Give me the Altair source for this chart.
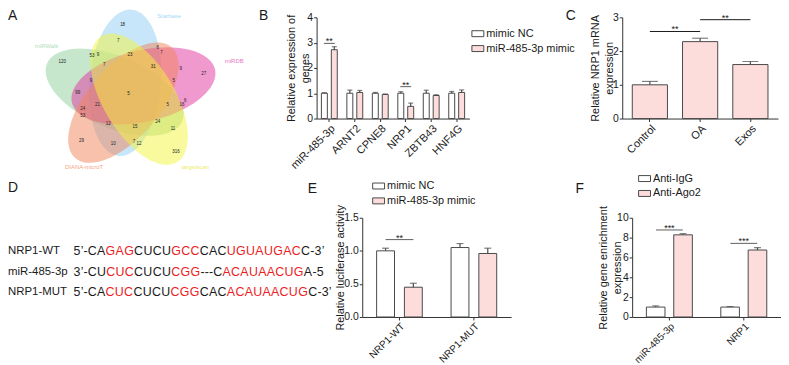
import math
import altair as alt
import pandas as pd

FONT = "Liberation Sans"
INK = "#1a1a1a"
EDGE = "#4a4a4a"
PINK = "#fddcdc"
RED = "#ec1c24"
RECT = "M-1,-0.5L1,-0.5L1,0.5L-1,0.5Z"

# ---------------- Panel A : five-set Venn ----------------
venn_names = ["miRWalk", "Starbase", "miRDB", "DIANA-microT", "targetscan"]
venn_fill = ["#8fcf9b", "#8fcdf3", "#e2339f", "#ef8459", "#f4f43c"]
venn_label_color = ["#b3dcbb", "#a6d7f4", "#e57ac4", "#f3a688", "#ecec66"]
venn_cx = [115.5, 126.1, 144.5, 124.3, 140.2]
venn_cy = [89.0, 79.5, 82.6, 99.5, 96.0]
venn_dir = [203, 275, 347, 131, 59]
venn_label_x = [46.7, 170.5, 236.0, 84.7, 196.7]
venn_label_y = [42.0, 11.7, 57.7, 164.0, 164.0]
venn_counts = ["18", "7", "6", "7", "23", "53", "9", "120", "7", "31", "9", "27",
               "9", "5", "99", "5", "21", "5", "6", "16", "24", "53", "12", "15",
               "24", "11", "29", "10", "7", "12", "316"]
venn_count_x = [123.5, 119, 159, 162.7, 131, 92.7, 98.7, 62.7, 105, 154.3, 182, 205.3,
                91.7, 175, 78.3, 129.3, 98.3, 169, 186.7, 183.3, 83.3, 83.3, 109, 136,
                159, 174.3, 82, 114, 135, 140, 177.3]
venn_count_y = [21.5, 37.3, 44.3, 49.3, 51.3, 52.7, 51.7, 58.7, 61.3, 63.3, 65.7, 70.3,
                77.3, 77.3, 89.5, 91, 101.7, 101.7, 98.3, 102.3, 105.7, 113, 121, 124,
                118.7, 125.7, 138.3, 140.7, 139, 140.7, 149.3]

# ---------------- Panel B ----------------
b_genes = ["miR-485-3p", "ARNT2", "CPNE8", "NRP1", "ZBTB43", "HNF4G"]
b_series = ["mimic NC", "miR-485-3p mimic"]
b_nc = [1.0, 1.0, 1.0, 1.0, 1.0, 1.0]
b_nc_err = [0.02, 0.12, 0.03, 0.06, 0.12, 0.07]
b_mimic = [2.72, 1.03, 0.95, 0.48, 0.91, 1.03]
b_mimic_err = [0.12, 0.08, 0.02, 0.13, 0.03, 0.10]
b_sig_cat = ["miR-485-3p", "NRP1"]
b_sig_y = [2.97, 1.26]
b_sig_txt = ["**", "**"]

# ---------------- Panel C ----------------
c_groups = ["Control", "OA", "Exos"]
c_vals = [1.0, 2.28, 1.6]
c_errs = [0.1, 0.1, 0.09]
c_sig_a = ["Control", "OA"]
c_sig_b = ["OA", "Exos"]
c_sig_y = [2.58, 2.93]
c_sig_txt = ["**", "**"]

# ---------------- Panel D ----------------
d_labels = ["NRP1-WT", "miR-485-3p", "NRP1-MUT"]
d_row_y = [251, 272, 292.3]
d_wt_parts = ["5’-CA", "GAG", "CUCU", "GCC", "CAC", "UGUAUGAC", "C-3’"]
d_mir_parts = ["3’-CU", "CUC", "CUCU", "CGG", "---C", "ACAUAACUG", "A-5"]
d_mut_parts = ["5’-CA", "CUC", "CUCU", "CGG", "CAC", "ACAUAACUG", "C-3’"]
d_part_colors = ["k", "r", "k", "r", "k", "r", "k"]

# ---------------- Panel E ----------------
e_groups = ["NRP1-WT", "NRP1-MUT"]
e_series = ["mimic NC", "miR-485-3p mimic"]
e_nc = [1.0, 1.05]
e_nc_err = [0.04, 0.06]
e_mimic = [0.45, 0.96]
e_mimic_err = [0.06, 0.08]
e_sig_cat = ["NRP1-WT"]
e_sig_y = [1.17]
e_sig_txt = ["**"]

# ---------------- Panel F ----------------
f_groups = ["miR-485-3p", "NRP1"]
f_series = ["Anti-IgG", "Anti-Ago2"]
f_igg = [1.0, 1.0]
f_igg_err = [0.12, 0.05]
f_ago = [8.28, 6.75]
f_ago_err = [0.12, 0.25]
f_sig_cat = ["miR-485-3p", "NRP1"]
f_sig_y = [8.77, 7.42]
f_sig_txt = ["***", "***"]

INDEP = dict(fill="independent", color="independent", xOffset="independent")


def letter(t, x, y):
    return alt.Chart(pd.DataFrame({"t": [t]})).mark_text(
        align="left", baseline="top", fontSize=14, font=FONT, color=INK
    ).encode(x=alt.value(x), y=alt.value(y), text="t:N")


# ---------- build panel A ----------
A_W, A_H, VSHIFT = 157, 150, 2.5
ax = dict(scale=alt.Scale(domain=[8, 8 + A_W], nice=False, zero=False), axis=None)
ay = dict(scale=alt.Scale(domain=[16 - VSHIFT, 16 - VSHIFT + A_H], nice=False, zero=False, reverse=True), axis=None)

ratio = 36 / 74


def ellipse_path(deg):
    th = math.radians(deg)
    c, s = math.cos(th), math.sin(th)
    pts = []
    for i in range(90):
        t = 2 * math.pi * i / 90
        px, py = math.cos(t), ratio * math.sin(t)
        pts.append(f"{px * c - py * s:.4f},{px * s + py * c:.4f}")
    return "M" + "L".join(pts) + "Z"


ell_paths = [ellipse_path(d) for d in venn_dir]
ell_df = pd.DataFrame({"name": venn_names, "x": venn_cx, "y": venn_cy,
                       "idx": list(range(len(venn_names)))})
ell = alt.Chart(ell_df).mark_point(filled=True, size=148 * 148, opacity=0.5, strokeWidth=0).encode(
    x=alt.X("x:Q", **ax), y=alt.Y("y:Q", **ay),
    shape=alt.Shape("name:N", scale=alt.Scale(domain=venn_names, range=ell_paths), legend=None),
    fill=alt.Fill("name:N", scale=alt.Scale(domain=venn_names, range=venn_fill), legend=None),
    order=alt.Order("idx:Q"),
)
lab_df = pd.DataFrame({"name": venn_names, "x": venn_label_x, "y": venn_label_y})
labs = alt.Chart(lab_df).mark_text(fontSize=6, font=FONT, baseline="middle").encode(
    x=alt.X("x:Q", **ax), y=alt.Y("y:Q", **ay), text="name:N",
    color=alt.Color("name:N", scale=alt.Scale(domain=venn_names, range=venn_label_color), legend=None),
)
cnt_df = pd.DataFrame({"t": venn_counts, "x": venn_count_x, "y": venn_count_y})
cnts = alt.Chart(cnt_df).mark_text(fontSize=4.5, font=FONT, color="#222222", baseline="middle").encode(
    x=alt.X("x:Q", **ax), y=alt.Y("y:Q", **ay), text="t:N"
)
panelA = alt.layer(ell, labs, cnts, letter("A", 0, -8)).resolve_scale(
    fill="independent", color="independent").properties(width=A_W, height=A_H)


# ---------- generic bar panel ----------
def bar_panel(cats, series, vals, errs, fills, W, H, ydom, yvals, yfmt, ytitle,
              band_pi, band_po, off_pi, off_po, cap, title_pad,
              within=None, across=None, letter_xy=(0, 0), letter_t="", legend_xy=None, xlab_fs=11):
    rows = []
    for s, vv, ee in zip(series, vals, errs):
        for c, v, e in zip(cats, vv, ee):
            rows.append({"cat": c, "s": s, "v": v, "top": v + e})
    df = pd.DataFrame(rows)
    xscale = alt.Scale(domain=cats, paddingInner=band_pi, paddingOuter=band_po)
    xaxis = alt.Axis(title=None, labelAngle=-45, labelFontSize=xlab_fs, tickSize=3, labelPadding=1)
    yscale = alt.Scale(domain=ydom, nice=False, zero=True)
    yaxis = alt.Axis(title=ytitle, values=yvals, format=yfmt, tickSize=3, labelPadding=1,
                     titlePadding=title_pad, titleLineHeight=14)

    def X(f="cat"):
        return alt.X(f + ":N", scale=xscale, axis=xaxis)

    def Y(f):
        return alt.Y(f + ":Q", scale=yscale, axis=yaxis)

    off = {}
    if len(series) > 1:
        off = {"xOffset": alt.XOffset("s:N", scale=alt.Scale(domain=series, paddingInner=off_pi, paddingOuter=off_po))}
    if legend_xy is not None:
        leg = alt.Legend(orient="none", legendX=legend_xy[0], legendY=legend_xy[1], title=None,
                         symbolType=RECT, symbolSize=144, symbolStrokeColor=EDGE, symbolStrokeWidth=1,
                         labelFontSize=11, labelFont=FONT, labelColor=INK, rowPadding=3, labelOffset=2,
                         padding=0, labelLimit=200)
    else:
        leg = None
    fill = alt.Fill("s:N", scale=alt.Scale(domain=series, range=fills), legend=leg)
    bars = alt.Chart(df).mark_bar(stroke=EDGE, strokeWidth=1).encode(x=X(), y=Y("v"), fill=fill, **off)
    ebar = alt.Chart(df).mark_rule(color=EDGE, strokeWidth=1.2).encode(x=X(), y=Y("v"), y2="top:Q", **off)
    caps = alt.Chart(df).mark_tick(color=EDGE, thickness=1.2, size=cap).encode(x=X(), y=Y("top"), **off)
    layers = [bars, ebar, caps]
    if within is not None:
        wdf = pd.DataFrame({"cat": within[0], "y": within[1], "t": within[2]})
        layers.append(alt.Chart(wdf).mark_tick(color=INK, thickness=1, size=within[3]).encode(x=X(), y=Y("y")))
        layers.append(alt.Chart(wdf).mark_text(fontSize=9, font=FONT, color=INK, baseline="alphabetic", dy=1).encode(
            x=X(), y=Y("y"), text="t:N"))
    if across is not None:
        adf = pd.DataFrame({"a": across[0], "b": across[1], "y": across[2], "t": across[3]})
        layers.append(alt.Chart(adf).mark_rule(color=INK, strokeWidth=1).encode(x=X("a"), x2="b:N", y=Y("y")))
        layers.append(alt.Chart(adf).mark_text(fontSize=9, font=FONT, color=INK, baseline="alphabetic", dy=1,
                                               dx=across[4]).encode(x=X("a"), y=Y("y"), text="t:N"))
    layers.append(letter(letter_t, letter_xy[0], letter_xy[1]))
    return alt.layer(*layers).properties(width=W, height=H)


panelB = bar_panel(b_genes, b_series, [b_nc, b_mimic], [b_nc_err, b_mimic_err], ["white", PINK],
                   154, 102, [0, 4], [0, 1, 2, 3, 4], "d", ["Relative expression of", "genes"],
                   0, 0, 0.4, 0.483, 5, -4,
                   within=(b_sig_cat, b_sig_y, b_sig_txt, 11), letter_xy=(-58, -8), letter_t="B",
                   legend_xy=(156, 10))

panelC = bar_panel(c_groups, ["OA"], [c_vals], [c_errs], [PINK],
                   157, 102, [0, 3], [0, 1, 2, 3], "d", ["Relative NRP1 mRNA", "expression"],
                   0.3, 0.2, 0, 0, 16, -2,
                   across=(c_sig_a, c_sig_b, c_sig_y, c_sig_txt, 25.3), letter_xy=(-57, -8), letter_t="C")

panelE = bar_panel(e_groups, e_series, [e_nc, e_mimic], [e_nc_err, e_mimic_err], ["white", PINK],
                   150, 100, [0, 1.5], [0, 0.5, 1.0, 1.5], ".1f", "Relative luciferase activity",
                   0, 0, 0.357, 0.518, 7, -2,
                   within=(e_sig_cat, e_sig_y, e_sig_txt, 28), letter_xy=(-55, -35.5), letter_t="E",
                   legend_xy=(10, -38.5), xlab_fs=10)

panelF = bar_panel(f_groups, f_series, [f_igg, f_ago], [f_igg_err, f_ago_err], ["white", PINK],
                   150, 100, [0, 10], [0, 2, 4, 6, 8, 10], "d", ["Relative gene enrichment", "expression"],
                   0, 0, 0.32, 0.52, 7, -6,
                   within=(f_sig_cat, f_sig_y, f_sig_txt, 27), letter_xy=(-57, -35.5), letter_t="F",
                   legend_xy=(6, -46), xlab_fs=10)

# ---------- panel D (sequence alignment text) ----------
CW = {"A": 667, "C": 722, "G": 778, "U": 722, "-": 333, "5": 556, "3": 556, "’": 222}
SEQ_FS = 12.5
SEQ_K = 1.035
d_chars = []
for ry, parts in zip(d_row_y, [d_wt_parts, d_mir_parts, d_mut_parts]):
    xpos = 74.0
    for part, col in zip(parts, d_part_colors):
        for ch in part:
            d_chars.append({"x": xpos, "y": ry, "ch": ch, "c": col})
            xpos += CW[ch] * SEQ_FS / 1000 * SEQ_K
dch_df = pd.DataFrame(d_chars)
D_W, D_H = 235, 100
dx = dict(scale=alt.Scale(domain=[8, 8 + D_W], nice=False, zero=False), axis=None)
dy = dict(scale=alt.Scale(domain=[217.5, 217.5 + D_H], nice=False, zero=False, reverse=True), axis=None)
seq = alt.Chart(dch_df).mark_text(align="left", baseline="middle", fontSize=SEQ_FS, font=FONT).encode(
    x=alt.X("x:Q", **dx), y=alt.Y("y:Q", **dy), text="ch:N",
    color=alt.Color("c:N", scale=alt.Scale(domain=["k", "r"], range=[INK, RED]), legend=None),
)
dl_df = pd.DataFrame({"t": d_labels, "x": [8, 8, 8], "y": d_row_y})
dlab = alt.Chart(dl_df).mark_text(align="left", baseline="middle", fontSize=11.5, font=FONT, color=INK).encode(
    x=alt.X("x:Q", **dx), y=alt.Y("y:Q", **dy), text="t:N"
)
panelD = alt.layer(seq, dlab, letter("D", 0, -36.5)).properties(width=D_W, height=D_H)

row1 = alt.hconcat(panelA, panelB, panelC, spacing=154, bounds="flush").resolve_scale(**INDEP)
row2 = alt.hconcat(panelD, panelE, panelF, spacing=122, bounds="flush").resolve_scale(**INDEP)

chart = alt.vconcat(row1, row2, spacing=1).resolve_scale(**INDEP).properties(padding=0).configure_axis(
    domainColor="#333333", domainWidth=1, tickColor="#333333", tickWidth=1,
    labelColor=INK, titleColor=INK, labelFont=FONT, titleFont=FONT,
    labelFontSize=10.5, titleFontSize=11, titleFontWeight="normal", grid=False,
).configure_view(stroke=None).configure_legend(labelFont=FONT)

chart.save("out.html", embed_options={"renderer": "svg", "actions": False})
